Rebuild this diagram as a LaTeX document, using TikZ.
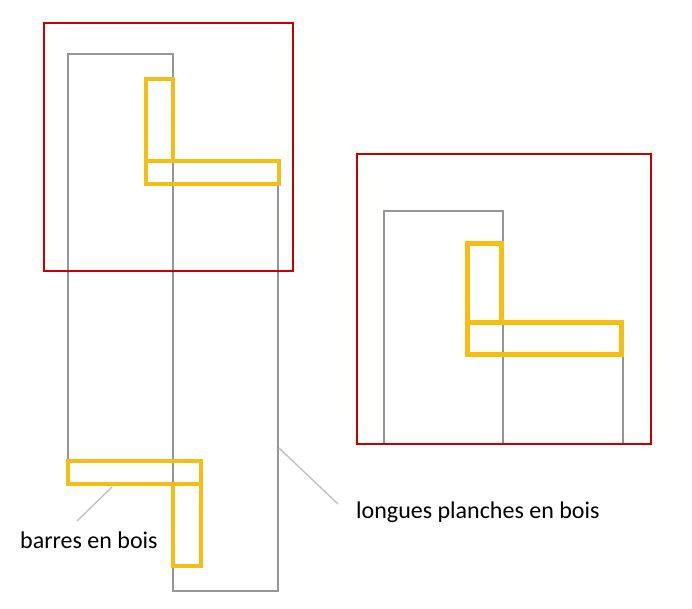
\documentclass[tikz,border=0pt]{standalone}
\usepackage{fontspec}
\setmainfont{Carlito}
\definecolor{boxred}{RGB}{200,0,0}
\definecolor{plankgray}{RGB}{150,150,150}
\definecolor{baryellow}{RGB}{245,190,20}
\definecolor{leadgray}{RGB}{190,190,190}
\begin{document}
\begin{tikzpicture}[x=1pt,y=-1pt,
 redbox/.style={draw=boxred, line width=2.8pt},
 plank/.style={draw=plankgray, line width=2pt},
 woodbar/.style={draw=baryellow, line width=3.4pt},
 bigbar/.style={draw=baryellow, line width=5pt},
 leader/.style={draw=leadgray, line width=1.3pt},
 lbl/.style={font=\fontsize{24}{28}\selectfont, anchor=base west, inner sep=0pt, text=black}]
\useasboundingbox (0,0) rectangle (692,609);
% left view: planks
\draw[plank] (68,54) rectangle (173,484);
\draw[plank] (173,161) rectangle (278,591);
% left view: bars
\draw[woodbar] (146,79) rectangle (173,161);
\draw[woodbar] (146,161) rectangle (279,184);
\draw[woodbar] (68,461) rectangle (201,484);
\draw[woodbar] (173,484) rectangle (201,566);
\draw[redbox] (44,23) rectangle (293,271);
% right view
\draw[plank] (384,211) rectangle (503,444);
\draw[plank] (503,322) rectangle (623,444);
\draw[bigbar] (467,244) rectangle (501.5,322);
\draw[bigbar] (467,322) rectangle (621,354);
\draw[redbox] (357,154) rectangle (651,444);
% labels
\node[lbl] (lb) at (20,548) {barres en bois};
\node[lbl] (lp) at (356,518) {longues planches en bois};
\coordinate (lbA) at (112,487);
\coordinate (lbB) at (77,521);
\coordinate (lpA) at (279,448);
\coordinate (lpB) at (338,504);
\draw[leader] (lbA) -- (lbB);
\draw[leader] (lpA) -- (lpB);
\end{tikzpicture}
\end{document}
